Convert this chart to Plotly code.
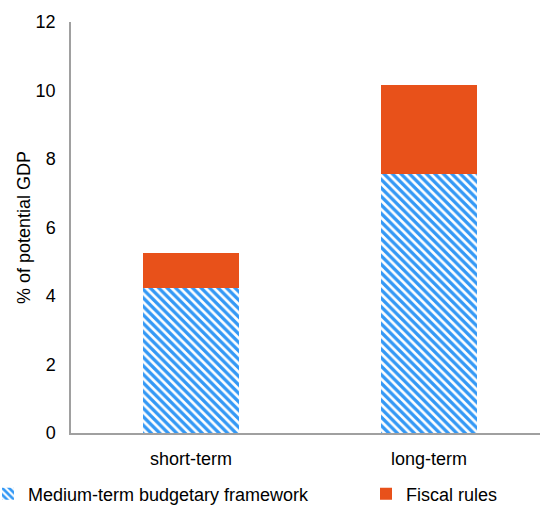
import plotly.graph_objects as go

categories = ["short-term", "long-term"]
mtbf = [4.23, 7.55]
fiscal_rules = [1.04, 2.61]
y_ticks = [0, 2, 4, 6, 8, 10, 12]

FONT = "Liberation Sans, Arial, sans-serif"

fig = go.Figure()
fig.add_trace(go.Bar(
    x=categories, y=mtbf, name="Medium-term budgetary framework",
    legend="legend",
    marker=dict(color="#ffffff", line=dict(width=0),
                pattern=dict(shape="\\", fgcolor="#3398f5", bgcolor="#ffffff",
                             fgopacity=1, size=6, solidity=0.55,
                             fillmode="overlay")),
))
fig.add_trace(go.Bar(
    x=categories, y=fiscal_rules, name="Fiscal rules",
    legend="legend2",
    marker=dict(color="#E8511A", line=dict(width=0)),
))

fig.update_layout(
    barmode="stack",
    bargap=0.597,
    width=540, height=505,
    margin=dict(l=71, r=0, t=22, b=72, autoexpand=False),
    paper_bgcolor="white", plot_bgcolor="white",
    font=dict(family=FONT, size=18, color="#000000"),
    showlegend=True,
    legend=dict(orientation="h", xref="paper", yref="container",
                x=(-12 - 71) / 469, xanchor="left", y=11 / 505, yanchor="middle",
                font=dict(size=18), itemwidth=30, bgcolor="rgba(0,0,0,0)"),
    legend2=dict(orientation="h", xref="container", yref="container",
                 x=366 / 540, xanchor="left", y=11 / 505, yanchor="middle",
                 font=dict(size=18), itemwidth=30, bgcolor="rgba(0,0,0,0)"),
)
fig.update_xaxes(showline=True, linecolor="#a0a0a0", linewidth=2,
                 range=[-0.504, 1.466],
                 ticks="", showgrid=False, tickfont=dict(size=18),
                 automargin=False, ticklabelstandoff=8)
fig.update_yaxes(range=[0, 12], tickvals=y_ticks, showline=True,
                 linecolor="#a0a0a0", linewidth=1.5, ticks="", showgrid=False,
                 zeroline=False, tickfont=dict(size=18), automargin=False,
                 ticklabelstandoff=10,
                 title=dict(text="% of potential GDP", font=dict(size=18), standoff=0))

fig.write_html("out.html", config={"displayModeBar": False},
               post_script="document.body.style.margin='0px';")
